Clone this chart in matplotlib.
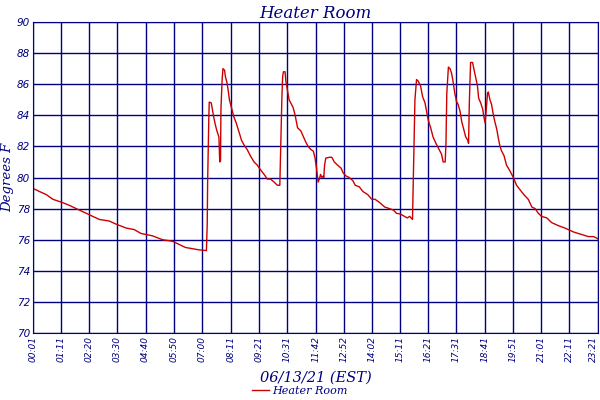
#!/usr/bin/env python3
"""Heater Room temperature log, 06/13/21."""
import matplotlib
matplotlib.use("Agg")
import matplotlib.pyplot as plt

NAVY = "#000080"
RED = "#cc0000"

# minutes since midnight, degrees F
minutes = [1, 17, 34, 50, 73, 92, 108, 133, 149, 166, 190, 207, 232, 252, 269, 297,
           322, 347, 363, 379, 412, 431,
           433, 434, 437, 438, 443, 445, 449, 453, 457, 462, 464, 466, 467, 470, 472,
           476, 478, 482, 485, 488, 493, 499, 505, 511, 518, 524, 532, 540, 549, 557,
           565, 574, 582, 590, 599, 607, 613,
           615, 618, 620, 622, 626, 628, 631, 636, 640, 646, 651, 657, 665, 672, 677,
           683, 690, 696, 700, 704, 708, 711, 714, 717, 721, 722, 724, 727, 736, 742,
           748, 756, 765, 770, 777, 785, 794, 800, 810, 819, 831, 841, 849, 860, 873,
           885, 895, 902, 912, 919, 929, 935, 942,
           945, 948, 952, 956, 962, 967, 973, 977, 981, 987, 993, 1000, 1008, 1014,
           1018, 1023, 1025, 1027, 1031, 1035, 1039, 1043, 1047, 1051, 1055, 1060,
           1064, 1068, 1074, 1079, 1081, 1083, 1086, 1091, 1094, 1099, 1103, 1106,
           1111, 1116, 1119, 1122, 1124, 1128, 1130, 1134, 1138, 1142, 1146, 1151,
           1155, 1159, 1163, 1169, 1175, 1184, 1192, 1200, 1209, 1218, 1229, 1238,
           1246, 1254, 1262, 1275, 1287, 1304, 1320, 1333, 1341, 1353, 1366, 1378,
           1391, 1399, 1402]
temps = [79.3, 79.1, 78.9, 78.6, 78.4, 78.2, 78.0, 77.7, 77.5, 77.3, 77.2, 77.0, 76.75,
         76.65, 76.4, 76.25, 76.0, 75.9, 75.7, 75.5, 75.35, 75.3,
         77.0, 79.7, 83.9, 84.85, 84.8, 84.5, 83.9, 83.4, 83.0, 82.6, 81.0, 81.1, 84.4,
         86.3, 87.0, 86.9, 86.5, 86.1, 85.6, 85.0, 84.5, 83.9, 83.5, 83.0, 82.4, 82.1,
         81.8, 81.4, 81.0, 80.8, 80.5, 80.2, 79.9, 79.9, 79.7, 79.5, 79.5,
         81.8, 85.0, 86.5, 86.8, 86.8, 86.2, 85.75, 85.0, 84.8, 84.5, 84.0, 83.2, 83.0,
         82.6, 82.3, 82.0, 81.8, 81.7, 81.3, 80.6, 79.7, 79.9, 80.2, 80.0, 80.1, 80.0,
         80.8, 81.25, 81.3, 81.3, 81.0, 80.8, 80.6, 80.3, 80.1, 80.0, 79.8, 79.5, 79.4,
         79.1, 78.9, 78.6, 78.6, 78.4, 78.1, 78.0, 77.9, 77.7, 77.65, 77.55, 77.4, 77.5,
         77.3,
         81.1, 85.0, 86.3, 86.2, 85.9, 85.2, 84.8, 84.25, 83.7, 83.2, 82.6, 82.2, 81.8,
         81.5, 81.0, 81.0, 82.2, 85.4, 87.1, 87.0, 86.7, 86.1, 85.4, 84.9, 84.7, 84.25,
         83.6, 83.2, 82.6, 82.4, 82.2, 84.9, 87.4, 87.4, 87.0, 86.4, 85.9, 85.1, 84.8,
         84.4, 83.9, 83.5, 84.1, 85.4, 85.5, 85.0, 84.7, 84.1, 83.6, 83.1, 82.5, 82.0,
         81.7, 81.4, 80.8, 80.4, 80.0, 79.5, 79.2, 78.9, 78.6, 78.1, 78.0, 77.7, 77.5,
         77.4, 77.1, 76.9, 76.75, 76.6, 76.5, 76.4, 76.3, 76.2, 76.2, 76.1, 76.05]

tick_minutes = [1, 71, 140, 210, 280, 350, 420, 491, 561, 631, 702, 772, 842, 911,
                981, 1051, 1121, 1191, 1261, 1331, 1401]
tick_labels = ["00:01", "01:11", "02:20", "03:30", "04:40", "05:50", "07:00", "08:11",
               "09:21", "10:31", "11:42", "12:52", "14:02", "15:11", "16:21", "17:31",
               "18:41", "19:51", "21:01", "22:11", "23:21"]


def main(out="out.png"):
    fig = plt.figure(figsize=(6, 4), dpi=100)
    ax = fig.add_axes([0.055, 0.1675, 0.9417, 0.7775])

    ax.plot(minutes, temps, color=RED, lw=1.0, label="Heater Room")

    ax.set_xlim(1, 1402)
    ax.set_ylim(70, 90)
    ax.set_yticks(range(70, 91, 2))
    ax.set_xticks(tick_minutes)
    ax.set_xticklabels(tick_labels, rotation=90)
    ax.grid(True, color=NAVY, lw=1.0)
    ax.set_axisbelow(True)
    for s in ax.spines.values():
        s.set_color(NAVY)
    ax.tick_params(length=0, colors=NAVY)
    ax.tick_params(axis="x", labelsize=6.5, pad=2)
    ax.tick_params(axis="y", labelsize=7.5, pad=2)
    for lab in ax.get_xticklabels() + ax.get_yticklabels():
        lab.set_fontstyle("italic")
    ax.get_xticklabels()[-1].set_ha("right")   # keep the last one inside the figure

    serif = dict(family="DejaVu Serif", style="italic", color=NAVY)
    ax.set_title("Heater Room", fontsize=12, pad=3, **serif)
    ax.set_ylabel("Degrees F", fontsize=9.5, **serif)
    ax.yaxis.set_label_coords(-0.033, 0.5)
    ax.set_xlabel("06/13/21 (EST)", fontsize=10.5, **serif)
    ax.xaxis.set_label_coords(0.5, -0.12)

    leg = fig.legend(loc="center", bbox_to_anchor=(0.5, 0.022), frameon=False,
                     prop=dict(family="DejaVu Serif", style="italic", size=8),
                     handlelength=1.5, handletextpad=0.3, borderpad=0)
    for t in leg.get_texts():
        t.set_color(NAVY)

    fig.savefig(out, dpi=100)
    print(f"Saved {out}")


if __name__ == "__main__":
    main()
